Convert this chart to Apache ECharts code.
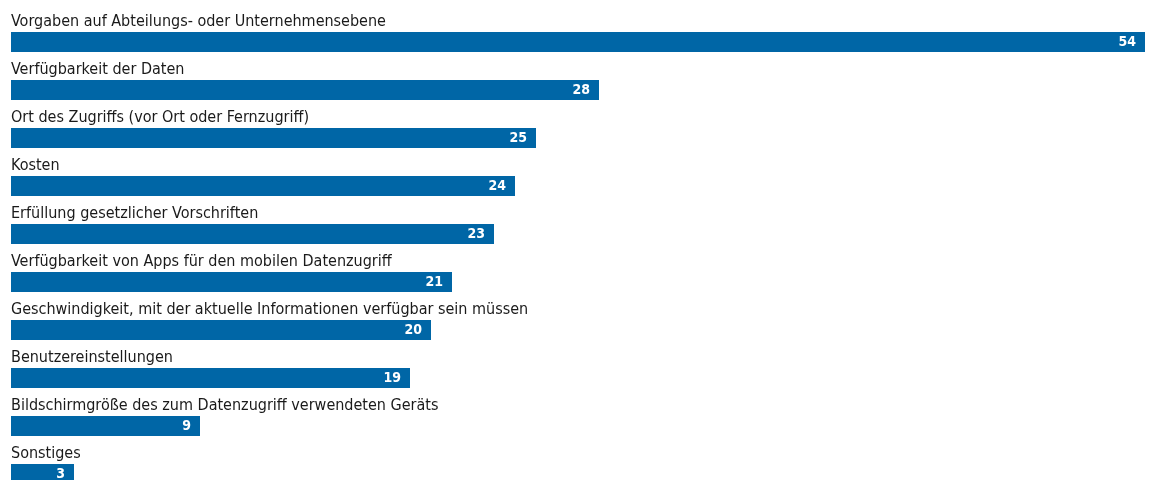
<!DOCTYPE html>
<html>
<head>
<meta charset="utf-8">
<script src="https://cdn.jsdelivr.net/npm/echarts@6/dist/echarts.min.js"></script>
<style>
  html, body { margin: 0; padding: 0; background: #ffffff; overflow: hidden; }
  /* ten 48px rows below an 18px top margin; the last row is cut by the window */
  #chart { width: 1158px; height: 498px; }
</style>
</head>
<body>
<div id="chart"></div>
<script>
// Kriterien, nach denen der Datenzugriff ausgewählt wird (Anteil in Prozent)
const categories = [
  'Vorgaben auf Abteilungs- oder Unternehmensebene',
  'Verfügbarkeit der Daten',
  'Ort des Zugriffs (vor Ort oder Fernzugriff)',
  'Kosten',
  'Erfüllung gesetzlicher Vorschriften',
  'Verfügbarkeit von Apps für den mobilen Datenzugriff',
  'Geschwindigkeit, mit der aktuelle Informationen verfügbar sein müssen',
  'Benutzereinstellungen',
  'Bildschirmgröße des zum Datenzugriff verwendeten Geräts',
  'Sonstiges'
];
const values = [54, 28, 25, 24, 23, 21, 20, 19, 9, 3];

const FONT = '"DejaVu Sans Condensed", "DejaVu Sans", sans-serif';
const BAR_COLOR = '#0066a6';

const chart = echarts.init(document.getElementById('chart'), null, { renderer: 'canvas' });

chart.setOption({
  animation: false,
  backgroundColor: '#ffffff',
  grid: { left: 11, top: 18, right: 13, bottom: 0, containLabel: false },
  xAxis: {
    type: 'value',
    min: 0,
    max: 54,
    show: false
  },
  yAxis: {
    type: 'category',
    inverse: true,
    data: categories,
    axisLine: { show: false },
    axisTick: { show: false },
    splitLine: { show: false },
    axisLabel: {
      inside: true,
      interval: 0,
      margin: 0,
      align: 'left',
      verticalAlign: 'bottom',
      padding: [0, 0, 12, 0],
      lineHeight: 16,
      fontFamily: FONT,
      fontSize: 16,
      color: '#1a1a1a'
    },
    z: 10
  },
  series: [{
    type: 'bar',
    data: values,
    barWidth: 20,
    itemStyle: { color: BAR_COLOR },
    label: {
      show: true,
      position: 'insideRight',
      distance: 9,
      formatter: '{c}',
      color: '#ffffff',
      fontFamily: FONT,
      fontWeight: 'bold',
      fontSize: 14
    }
  }]
});
</script>
</body>
</html>
